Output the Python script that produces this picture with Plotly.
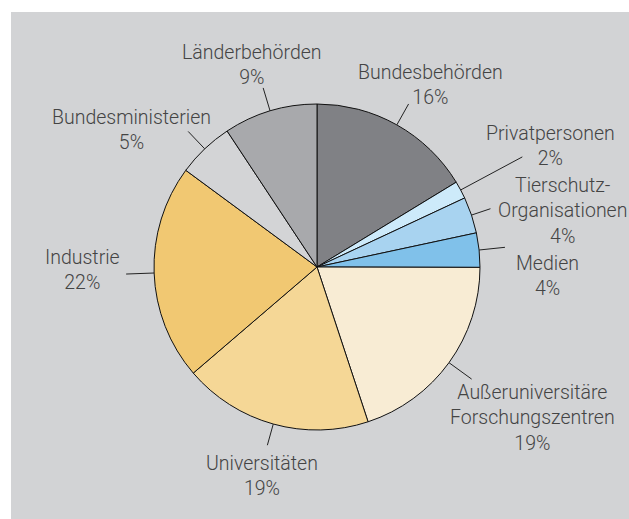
import math
import plotly.graph_objects as go

# ---- data ----
categories = ["Bundesbehörden", "Privatpersonen", "Tierschutz-<br>Organisationen", "Medien",
              "Außeruniversitäre<br>Forschungszentren", "Universitäten", "Industrie",
              "Bundesministerien", "Länderbehörden"]
shares = [16.3, 1.75, 3.6, 3.4, 19.9, 18.8, 21.4, 5.6, 9.3]
pct_labels = ["16%", "2%", "4%", "4%", "19%", "19%", "22%", "5%", "9%"]

# ---- style / layout ----
colors = ["#808185", "#cdeafa", "#a8d3f0", "#80c1ea", "#f8ecd4",
          "#f5d796", "#f1c872", "#d3d4d6", "#a8a9ac"]
W, H = 629, 519
CX, CY, R = 317, 267, 163          # pie centre / radius in pixels
BG = "#d2d3d5"
TXT = "#444444"
# label text centres (pixels) and leader lengths
label_pos = [(430, 85), (550, 146), (562, 211), (547, 276), (532, 418),
             (262, 476), (82, 270), (131, 130), (252, 65)]
leader_len = [24, 70, 20, 26, 28, 22, 28, 24, 24]

def px(x):
    return x / W

def py(y):
    return 1 - y / H

fig = go.Figure(go.Pie(
    labels=categories,
    values=shares,
    sort=False,
    direction="clockwise",
    rotation=0,
    textinfo="none",
    hoverinfo="label+percent",
    marker=dict(colors=colors, line=dict(color="#111111", width=1)),
    domain=dict(x=[px(CX - R), px(CX + R)], y=[py(CY + R), py(CY - R)]),
    showlegend=False,
))

shapes = [dict(type="rect", xref="paper", yref="paper", x0=px(11), x1=1, y0=0, y1=py(12),
               fillcolor=BG, line=dict(width=0), layer="below")]
annotations = []
total = sum(shares)
cum = 0.0
for i, v in enumerate(shares):
    mid = (cum + v / 2) / total * 2 * math.pi
    cum += v
    sx, sy = CX + R * math.sin(mid), CY - R * math.cos(mid)
    ex, ey = CX + (R + leader_len[i]) * math.sin(mid), CY - (R + leader_len[i]) * math.cos(mid)
    shapes.append(dict(type="line", xref="paper", yref="paper",
                       x0=px(sx), y0=py(sy), x1=px(ex), y1=py(ey),
                       line=dict(color="#222222", width=1)))
    lx, ly = label_pos[i]
    annotations.append(dict(xref="paper", yref="paper", x=px(lx), y=py(ly),
                            text=f"{categories[i]}<br>{pct_labels[i]}",
                            showarrow=False, xanchor="center", yanchor="middle",
                            align="center",
                            font=dict(family="Roboto, Liberation Sans, Arial, sans-serif",
                                      size=19.5, color=TXT, weight=300)))

fig.update_layout(
    width=W, height=H,
    margin=dict(l=0, r=0, t=0, b=0),
    paper_bgcolor="white",
    shapes=shapes,
    annotations=annotations,
)

fig.write_html("out.html", config={"displayModeBar": False},
               post_script="document.body.style.margin='0';document.body.style.overflow='hidden';")
